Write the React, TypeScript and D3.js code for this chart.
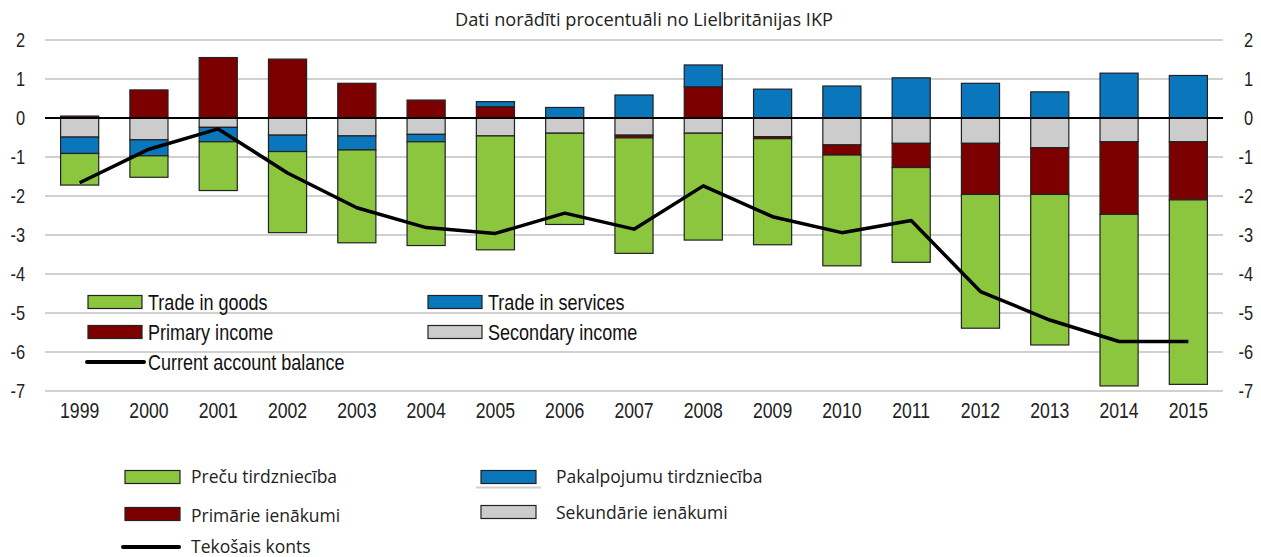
import React, { useEffect, useRef } from "react";
import * as d3 from "d3";

const years = ["1999", "2000", "2001", "2002", "2003", "2004", "2005", "2006", "2007", "2008", "2009", "2010", "2011", "2012", "2013", "2014", "2015"];
const tradeGoods = [-0.81, -0.55, -1.25, -2.08, -2.38, -2.66, -2.92, -2.34, -2.96, -2.74, -2.72, -2.84, -2.43, -3.43, -3.86, -4.4, -4.73];
const tradeServices = [-0.42, -0.41, -0.37, -0.42, -0.36, -0.19, 0.13, 0.27, 0.59, 0.56, 0.74, 0.82, 1.03, 0.89, 0.67, 1.15, 1.09];
const primaryIncome = [0.05, 0.72, 1.55, 1.51, 0.89, 0.46, 0.29, 0, -0.07, 0.8, -0.05, -0.26, -0.62, -1.31, -1.2, -1.86, -1.49];
const secondaryIncome = [-0.49, -0.56, -0.24, -0.44, -0.46, -0.42, -0.46, -0.39, -0.44, -0.39, -0.48, -0.69, -0.65, -0.65, -0.76, -0.61, -0.61];
const currentAccount = [-1.66, -0.8, -0.28, -1.41, -2.3, -2.81, -2.96, -2.44, -2.85, -1.74, -2.53, -2.94, -2.63, -4.45, -5.18, -5.73, -5.73];
const yTicks = [2, 1, 0, -1, -2, -3, -4, -5, -6, -7];

const title = "Dati norādīti procentuāli no Lielbritānijas IKP";
const colors = { goods: "#8cc63f", services: "#0a77bd", primary: "#7d0000", secondary: "#cccccc" };
const narrow = "'Liberation Sans', Arial, sans-serif";
const plain = "'Open Sans', 'Noto Sans', sans-serif";
const squeeze = 0.82; // fake Arial Narrow

function Chart() {
  const ref = useRef<SVGSVGElement>(null);

  useEffect(() => {
    const svg = d3.select(ref.current);
    svg.selectAll("*").remove();

    const x = d3.scaleBand().domain(years).range([45, 1223]).paddingInner(0.45).paddingOuter(0.225);
    const y = d3.scaleLinear().domain([-7, 2]).range([391, 40]);

    const rows = years.map((yr, i) => ({
      year: yr,
      secondary: secondaryIncome[i],
      primary: primaryIncome[i],
      services: tradeServices[i],
      goods: tradeGoods[i],
    }));
    const keys = ["secondary", "primary", "services", "goods"];
    const series = d3.stack<any>().keys(keys).offset(d3.stackOffsetDiverging)(rows);

    const nt = (tx: number, ty: number) => `translate(${tx},${ty}) scale(${squeeze},1)`;

    svg.append("text")
      .attr("x", 644).attr("y", 26)
      .attr("text-anchor", "middle")
      .attr("font-family", plain).attr("font-size", 18.2)
      .attr("fill", "#222")
      .text(title);

    // gridlines
    svg.append("g")
      .selectAll("line")
      .data(yTicks.filter((d) => d !== 0))
      .join("line")
      .attr("x1", 45).attr("x2", 1223)
      .attr("y1", (d) => y(d)).attr("y2", (d) => y(d))
      .attr("stroke", "#d0d0d0").attr("stroke-width", 2);

    // tick labels left and right
    const tickG = svg.append("g").attr("font-family", narrow).attr("font-size", 20).attr("fill", "#222");
    tickG.selectAll(".lt").data(yTicks).join("text").attr("class", "lt")
      .attr("transform", (d) => nt(25, y(d) + 7)).attr("text-anchor", "end").text((d) => d);
    tickG.selectAll(".rt").data(yTicks).join("text").attr("class", "rt")
      .attr("transform", (d) => nt(1253, y(d) + 7)).attr("text-anchor", "end").text((d) => d);

    // year labels
    svg.append("g").selectAll("text").data(years).join("text")
      .attr("transform", (d) => nt(x(d)! + x.bandwidth() / 2, 418))
      .attr("text-anchor", "middle")
      .attr("font-family", narrow).attr("font-size", 21.5).attr("fill", "#222")
      .text((d) => d);

    // stacked bars
    svg.append("g").selectAll("g").data(series).join("g")
      .attr("fill", (s) => (colors as any)[s.key])
      .selectAll("rect")
      .data((s) => s)
      .join("rect")
      .attr("x", (d) => x(d.data.year)!)
      .attr("y", (d) => y(Math.max(d[0], d[1])))
      .attr("width", x.bandwidth())
      .attr("height", (d) => Math.abs(y(d[0]) - y(d[1])))
      .attr("stroke", "#222").attr("stroke-width", 1.2);

    // zero line
    svg.append("line")
      .attr("x1", 45).attr("x2", 1223)
      .attr("y1", y(0)).attr("y2", y(0))
      .attr("stroke", "#000").attr("stroke-width", 2);

    // current account line
    const line = d3.line<number>()
      .x((d, i) => x(years[i])! + x.bandwidth() / 2)
      .y((d) => y(d));
    svg.append("path")
      .datum(currentAccount)
      .attr("d", line)
      .attr("fill", "none").attr("stroke", "#000").attr("stroke-width", 3.5)
      .attr("stroke-linejoin", "round");

    // inner legend
    const inner = [
      { label: "Trade in goods", color: colors.goods, x: 88, y: 302 },
      { label: "Trade in services", color: colors.services, x: 428, y: 302 },
      { label: "Primary income", color: colors.primary, x: 88, y: 332 },
      { label: "Secondary income", color: colors.secondary, x: 428, y: 332 },
    ];
    const lg = svg.append("g").attr("font-family", narrow).attr("font-size", 22).attr("fill", "#111");
    inner.forEach((it) => {
      lg.append("rect").attr("x", it.x).attr("y", it.y - 6.5).attr("width", 54).attr("height", 13)
        .attr("fill", it.color).attr("stroke", "#222").attr("stroke-width", 1.2);
      lg.append("text").attr("transform", nt(it.x + 60, it.y + 8)).text(it.label);
    });
    lg.append("line").attr("x1", 87).attr("x2", 144).attr("y1", 362).attr("y2", 362)
      .attr("stroke", "#000").attr("stroke-width", 4).attr("stroke-linecap", "round");
    lg.append("text").attr("transform", nt(148, 370)).text("Current account balance");

    // bottom legend
    const bottom = [
      { label: "Preču tirdzniecība", color: colors.goods, x: 125, y: 477, tx: 191, ty: 477 },
      { label: "Pakalpojumu tirdzniecība", color: colors.services, x: 481, y: 477, tx: 556, ty: 477 },
      { label: "Primārie ienākumi", color: colors.primary, x: 125, y: 514, tx: 191, ty: 516 },
      { label: "Sekundārie ienākumi", color: colors.secondary, x: 481, y: 512, tx: 556, ty: 513 },
    ];
    const bg = svg.append("g").attr("font-family", plain).attr("font-size", 17.5).attr("fill", "#222");
    bg.append("line").attr("x1", 476).attr("x2", 541).attr("y1", 487.5).attr("y2", 487.5)
      .attr("stroke", "#d0d0d0").attr("stroke-width", 2);
    bottom.forEach((it) => {
      bg.append("rect").attr("x", it.x).attr("y", it.y - 6.5).attr("width", 55).attr("height", 13)
        .attr("fill", it.color).attr("stroke", "#222").attr("stroke-width", 1.2);
      bg.append("text").attr("x", it.tx).attr("y", it.ty + 6).text(it.label);
    });
    bg.append("line").attr("x1", 123).attr("x2", 179).attr("y1", 547).attr("y2", 547)
      .attr("stroke", "#000").attr("stroke-width", 4).attr("stroke-linecap", "round");
    bg.append("text").attr("x", 191).attr("y", 553).text("Tekošais konts");
  }, []);

  return (
    <svg ref={ref} width={1261} height={557} style={{ position: "absolute", left: 0, top: 0, background: "#fff" }} />
  );
}

export default function App() {
  return <Chart />;
}
